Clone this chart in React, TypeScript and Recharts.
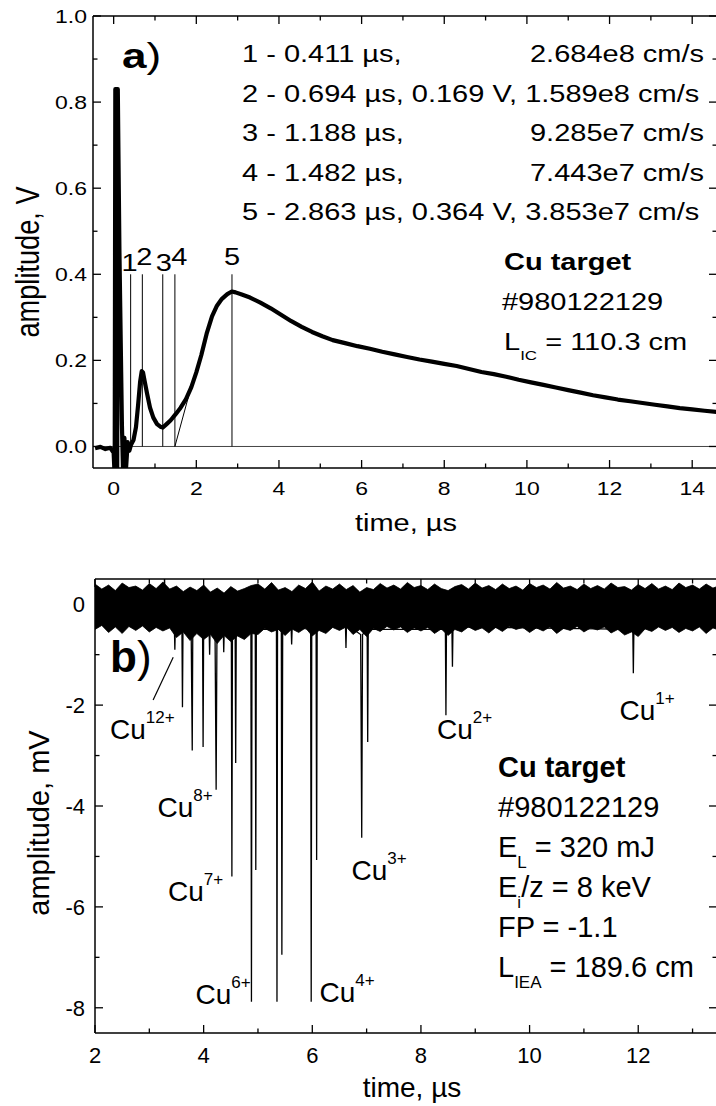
import React from "react";
import { ComposedChart, Line, Area, XAxis, YAxis, ReferenceLine } from "recharts";

const FONT = '"Liberation Sans", Arial, Helvetica, sans-serif';
const SQ = 0.8; // panel a) of the scan is squashed vertically

// ---- panel a): ion collector signal, time (µs) vs amplitude (V) ----
const icTime = [
  -0.45, -0.32, -0.2, -0.08, 0.0, 0.025, 0.04, 0.07, 0.085, 0.1, 0.14, 0.2, 0.23, 0.26,
  0.3, 0.34, 0.38, 0.42, 0.48, 0.54, 0.59, 0.64, 0.68, 0.71, 0.75, 0.81, 0.88, 0.96, 1.05,
  1.13, 1.19, 1.28, 1.38, 1.5, 1.62, 1.75, 1.88, 2.0, 2.12, 2.25, 2.38, 2.5, 2.62, 2.75, 2.86,
  2.95, 3.1, 3.3, 3.55, 3.8, 4.05, 4.3, 4.55, 4.8, 5.05, 5.3, 5.6, 5.9, 6.2, 6.5, 6.8, 7.1,
  7.4, 7.7, 8.0, 8.3, 8.6, 8.9, 9.2, 9.5, 9.8, 10.1, 10.4, 10.7, 11.0, 11.3, 11.6, 11.9, 12.2,
  12.5, 12.8, 13.1, 13.4, 13.7, 14.0, 14.3, 14.6,
];
const icAmp = [
  -0.004, -0.001, -0.006, -0.003, -0.015, -0.07, 0.83, 0.83, -0.07, 0.83, 0.45, 0.05, -0.07, 0.02,
  -0.05, 0.01, -0.01, 0.004, 0.015, 0.045, 0.095, 0.15, 0.175, 0.172, 0.152, 0.122, 0.09, 0.067, 0.052,
  0.046, 0.044, 0.052, 0.061, 0.075, 0.09, 0.11, 0.138, 0.172, 0.212, 0.262, 0.302, 0.327, 0.343, 0.354, 0.36,
  0.358, 0.353, 0.346, 0.334, 0.321, 0.306, 0.291, 0.278, 0.266, 0.256, 0.247, 0.24, 0.233, 0.227, 0.22, 0.214, 0.208,
  0.202, 0.197, 0.192, 0.187, 0.18, 0.173, 0.168, 0.162, 0.155, 0.149, 0.143, 0.137, 0.131, 0.125, 0.119, 0.114, 0.109,
  0.105, 0.101, 0.097, 0.093, 0.089, 0.086, 0.083, 0.08,
];
const markTime = [0.411, 0.694, 1.188, 1.482, 2.863];
const markName = ["1", "2", "3", "4", "5"];
const markTop = 0.4;
// label nudges in px (dx, dy from the top of each marker)
const markNudge = [[-1, -3], [2, -9], [1, -3], [4.5, -9], [0, -9]];
const tangentT = [1.482, 1.95];
const tangentV = [0, 0.165];

const aXTicks = [0, 1, 2, 3, 4, 5, 6, 7, 8, 9, 10, 11, 12, 13, 14];
const aXMajor = [0, 2, 4, 6, 8, 10, 12, 14];
const aYTicks = [0, 0.1, 0.2, 0.3, 0.4, 0.5, 0.6, 0.7, 0.8, 0.9, 1.0];
const aYMajor = [0, 0.2, 0.4, 0.6, 0.8, 1.0];

// ---- panel b): IEA spectrum, time (µs) vs amplitude (mV) ----
// noise band envelope (upper / lower edge)
const noiseTime = [
  2.0, 2.125, 2.25, 2.375, 2.5, 2.625, 2.75, 2.875, 3.0, 3.125, 3.25, 3.375, 3.5, 3.625, 3.75, 3.875,
  4.0, 4.125, 4.25, 4.375, 4.5, 4.625, 4.75, 4.875, 5.0, 5.125, 5.25, 5.375, 5.5, 5.625, 5.75, 5.875,
  6.0, 6.125, 6.25, 6.375, 6.5, 6.625, 6.75, 6.875, 7.0, 7.125, 7.25, 7.375, 7.5, 7.625, 7.75, 7.875,
  8.0, 8.125, 8.25, 8.375, 8.5, 8.625, 8.75, 8.875, 9.0, 9.125, 9.25, 9.375, 9.5, 9.625, 9.75, 9.875,
  10.0, 10.125, 10.25, 10.375, 10.5, 10.625, 10.75, 10.875, 11.0, 11.125, 11.25, 11.375, 11.5, 11.625, 11.75, 11.875,
  12.0, 12.125, 12.25, 12.375, 12.5, 12.625, 12.75, 12.875, 13.0, 13.125, 13.25, 13.375, 13.5,
];
const noiseHigh = [
  0.4, 0.3, 0.38, 0.27, 0.42, 0.33, 0.36, 0.28, 0.41, 0.31, 0.44, 0.3, 0.36, 0.25, 0.34, 0.27,
  0.38, 0.24, 0.32, 0.22, 0.35, 0.26, 0.31, 0.37, 0.4, 0.3, 0.43, 0.28, 0.33, 0.25, 0.38, 0.31,
  0.44, 0.26, 0.36, 0.3, 0.4, 0.29, 0.37, 0.24, 0.33, 0.29, 0.41, 0.32, 0.38, 0.3, 0.43, 0.33,
  0.37, 0.29, 0.4, 0.31, 0.27, 0.35, 0.39, 0.3, 0.42, 0.32, 0.37, 0.29, 0.4, 0.31, 0.36, 0.28,
  0.41, 0.33, 0.38, 0.3, 0.43, 0.32, 0.36, 0.29, 0.4, 0.31, 0.37, 0.3, 0.42, 0.33, 0.35, 0.28,
  0.39, 0.31, 0.41, 0.3, 0.36, 0.29, 0.42, 0.33, 0.38, 0.3, 0.4, 0.32, 0.37,
];
const noiseLow = [
  -0.5, -0.42, -0.56, -0.45, -0.58, -0.44, -0.52, -0.43, -0.55, -0.46, -0.53, -0.47, -0.66, -0.55, -0.72, -0.58,
  -0.7, -0.6, -0.78, -0.62, -0.74, -0.63, -0.7, -0.58, -0.6, -0.48, -0.55, -0.5, -0.62, -0.49, -0.56, -0.47,
  -0.63, -0.52, -0.58, -0.46, -0.52, -0.45, -0.6, -0.5, -0.64, -0.48, -0.54, -0.44, -0.51, -0.45, -0.56, -0.47,
  -0.53, -0.46, -0.58, -0.49, -0.62, -0.5, -0.55, -0.45, -0.52, -0.47, -0.57, -0.46, -0.54, -0.44, -0.5, -0.46,
  -0.56, -0.47, -0.53, -0.45, -0.58, -0.48, -0.52, -0.44, -0.55, -0.47, -0.51, -0.45, -0.57, -0.5, -0.61, -0.55,
  -0.64, -0.49, -0.54, -0.45, -0.52, -0.46, -0.56, -0.48, -0.53, -0.45, -0.58, -0.47, -0.52,
];
// spike trace (each peak with its shoulders in the noise band)
const traceTime = [
  2.0, 3.27, 3.28, 3.29, 3.46, 3.47, 3.48, 3.6, 3.61, 3.62, 3.77, 3.79, 3.8, 3.98, 3.99, 4.0,
  4.1, 4.11, 4.12, 4.21, 4.23, 4.245, 4.36, 4.37, 4.38, 4.51, 4.52, 4.53, 4.58, 4.59, 4.6,
  4.87, 4.88, 4.89, 4.95, 4.96, 4.97, 5.34, 5.35, 5.36, 5.43, 5.44, 5.455, 5.61, 5.62, 5.63,
  5.97, 5.98, 5.99, 6.07, 6.08, 6.09, 6.61, 6.62, 6.63, 6.89, 6.91, 6.925, 7.01, 7.02, 7.03,
  8.45, 8.46, 8.47, 8.57, 8.58, 8.59, 11.9, 11.91, 11.92, 13.45,
];
const traceAmp = [
  -0.1, -0.1, 0.6, -0.1, -0.4, -0.9, -0.4, -0.45, -2.04, -0.45, -0.5, -2.9, -0.5, -0.5, -2.83, -0.5,
  -0.45, -1.0, -0.45, -0.6, -3.68, -0.6, -0.45, -0.95, -0.45, -0.6, -5.4, -0.6, -0.6, -3.15, -0.6,
  -0.5, -7.88, -0.5, -0.5, -5.27, -0.5, -0.5, -7.88, -0.5, -0.5, -6.95, -0.5, -0.45, -0.8, -0.45,
  -0.5, -7.88, -0.5, -0.5, -5.07, -0.5, -0.4, -0.87, -0.4, -0.6, -4.63, -0.6, -0.5, -2.73, -0.5,
  -0.5, -2.2, -0.5, -0.45, -1.24, -0.45, -0.5, -1.37, -0.5, -0.1,
];
const leaderT = [3.07, 3.44];
const leaderV = [-1.9, -1.05];

const bXTicks = [2, 3, 4, 5, 6, 7, 8, 9, 10, 11, 12, 13];
const bXMajor = [2, 4, 6, 8, 10, 12];
const bYTicks = [-8, -7, -6, -5, -4, -3, -2, -1, 0];
const bYMajor = [-8, -6, -4, -2, 0];

const icData = icTime.map((t, i) => ({ t, v: icAmp[i] }));
const noiseData = noiseTime.map((t, i) => ({ t, band: [noiseLow[i], noiseHigh[i]] }));
const traceData = traceTime.map((t, i) => ({ t, v: traceAmp[i] }));

type TickOpts = {
  side: "bottom" | "top" | "left" | "right";
  majors: number[];
  fmt?: (v: number) => string;
  size?: number;
  sy?: number;
  gap?: number;
};

// inward ticks, long at labelled values, short in between
function tickRenderer(o: TickOpts) {
  return (props: any) => {
    const { x, y, payload } = props;
    const v = payload.value;
    const major = o.majors.some((m) => Math.abs(m - v) < 1e-6);
    const len = major ? 8 : 4.5;
    let x2 = x, y2 = y;
    if (o.side === "bottom") y2 = y - len;
    if (o.side === "top") y2 = y + len;
    if (o.side === "left") x2 = x + len;
    if (o.side === "right") x2 = x - len;
    const size = o.size ?? 20;
    const sy = o.sy ?? 1;
    const gap = o.gap ?? 8;
    let label = null;
    if (major && o.fmt) {
      const tf = o.side === "bottom"
        ? `translate(${x},${y + gap}) scale(1,${sy})`
        : `translate(${x - gap},${y + 0.36 * size * sy}) scale(1,${sy})`;
      label = (
        <text transform={tf} fontSize={size} fontFamily={FONT} fill="#000"
          textAnchor={o.side === "bottom" ? "middle" : "end"}>
          {o.fmt(v)}
        </text>
      );
    }
    return (
      <g>
        <line x1={x} y1={y} x2={x2} y2={y2} stroke="#000" strokeWidth={1.3} />
        {label}
      </g>
    );
  };
}

function Txt({ x, y, size = 29, sy = 1, bold = false, anchor = "start", rotate = 0, children }: any) {
  const tf = `translate(${x},${y}) scale(1,${sy})` + (rotate ? ` rotate(${rotate})` : "");
  return (
    <text transform={tf} fontSize={size} fontFamily={FONT} fontWeight={bold ? 700 : 400}
      textAnchor={anchor} fill="#000" style={{ whiteSpace: "pre" }}>
      {children}
    </text>
  );
}

function Ion({ x, y, charge }: { x: number; y: number; charge: string }) {
  return (
    <Txt x={x} y={y} size={28}>
      Cu<tspan fontSize={17} dy={-16}>{charge}</tspan>
    </Txt>
  );
}

const markLabel = (i: number) => (p: any) => {
  const vb = p.viewBox || {};
  const [dx, dy] = markNudge[i];
  return (
    <text transform={`translate(${vb.x + dx},${vb.y + dy}) scale(1,${SQ})`} fontSize={29}
      fontFamily={FONT} textAnchor="middle" fill="#000">
      {markName[i]}
    </text>
  );
};

const axisLine = { stroke: "#000", strokeWidth: 1.5 };

function PanelA() {
  return (
    <ComposedChart width={720} height={545} margin={{ top: 15, right: 2, bottom: 76, left: 92 }}>
      <XAxis type="number" dataKey="t" domain={[-0.5, 14.6]} allowDataOverflow ticks={aXTicks}
        interval={0} height={1} tickSize={0} tickMargin={0} tickLine={false} axisLine={axisLine}
        tick={tickRenderer({ side: "bottom", majors: aXMajor, fmt: (v) => String(v), size: 23, sy: SQ, gap: 27 })} />
      <XAxis xAxisId="top" orientation="top" type="number" dataKey="t" domain={[-0.5, 14.6]}
        allowDataOverflow ticks={aXTicks} interval={0} height={1} tickSize={0} tickMargin={0}
        tickLine={false} axisLine={axisLine} tick={tickRenderer({ side: "top", majors: aXMajor })} />
      <YAxis type="number" domain={[-0.05, 1.0]} allowDataOverflow ticks={aYTicks} interval={0}
        width={1} tickSize={0} tickMargin={0} tickLine={false} axisLine={axisLine}
        tick={tickRenderer({ side: "left", majors: aYMajor, fmt: (v) => v.toFixed(1), size: 23, sy: SQ, gap: 6 })} />
      <YAxis yAxisId="right" orientation="right" type="number" domain={[-0.05, 1.0]} allowDataOverflow
        ticks={aYTicks} interval={0} width={1} tickSize={0} tickMargin={0} tickLine={false}
        axisLine={axisLine} tick={tickRenderer({ side: "right", majors: aYMajor })} />
      <ReferenceLine y={0} stroke="#444" strokeWidth={1} />
      {markTime.map((t, i) => (
        <ReferenceLine key={t} segment={[{ x: t, y: 0 }, { x: t, y: markTop }]} stroke="#000"
          strokeWidth={1} label={markLabel(i)} />
      ))}
      <ReferenceLine segment={[{ x: tangentT[0], y: tangentV[0] }, { x: tangentT[1], y: tangentV[1] }]}
        stroke="#000" strokeWidth={1} />
      <Line data={icData} dataKey="v" type="linear" stroke="#000" strokeWidth={4.2} dot={false}
        isAnimationActive={false} strokeLinejoin="round" />
      <Line data={icData} dataKey="v" xAxisId="top" yAxisId="right" stroke="none" dot={false}
        isAnimationActive={false} />
    </ComposedChart>
  );
}

function PanelB() {
  return (
    <ComposedChart width={720} height={561} margin={{ top: 33, right: 2, bottom: 72, left: 94 }}>
      <XAxis type="number" dataKey="t" domain={[2, 13.45]} allowDataOverflow ticks={bXTicks}
        interval={0} height={1} tickSize={0} tickMargin={0} tickLine={false} axisLine={axisLine}
        tick={tickRenderer({ side: "bottom", majors: bXMajor, fmt: (v) => String(v), size: 22, gap: 30 })} />
      <XAxis xAxisId="top" orientation="top" type="number" dataKey="t" domain={[2, 13.45]}
        allowDataOverflow ticks={bXTicks} interval={0} height={1} tickSize={0} tickMargin={0}
        tickLine={false} axisLine={axisLine} tick={tickRenderer({ side: "top", majors: bXMajor })} />
      <YAxis type="number" domain={[-8.5, 0.5]} allowDataOverflow ticks={bYTicks} interval={0}
        width={1} tickSize={0} tickMargin={0} tickLine={false} axisLine={axisLine}
        tick={tickRenderer({ side: "left", majors: bYMajor, fmt: (v) => String(v), size: 22, gap: 10 })} />
      <YAxis yAxisId="right" orientation="right" type="number" domain={[-8.5, 0.5]} allowDataOverflow
        ticks={bYTicks} interval={0} width={1} tickSize={0} tickMargin={0} tickLine={false}
        axisLine={axisLine} tick={tickRenderer({ side: "right", majors: bYMajor })} />
      <Area data={noiseData} dataKey="band" type="linear" stroke="#000" strokeWidth={0.8} fill="#000"
        fillOpacity={1} isAnimationActive={false} dot={false} activeDot={false} />
      <Line data={traceData} dataKey="v" type="linear" stroke="#000" strokeWidth={1.3} dot={false}
        isAnimationActive={false} />
      <Line data={traceData} dataKey="v" xAxisId="top" yAxisId="right" stroke="none" dot={false}
        isAnimationActive={false} />
      <ReferenceLine segment={[{ x: leaderT[0], y: leaderV[0] }, { x: leaderT[1], y: leaderV[1] }]}
        stroke="#000" strokeWidth={1.2} />
    </ComposedChart>
  );
}

export default function App() {
  return (
    <div style={{ position: "absolute", left: 0, top: 0, width: 716, height: 1106, overflow: "hidden", background: "#fff" }}>
      <div style={{ position: "absolute", left: 0, top: 0 }}>
        <PanelA />
      </div>
      <div style={{ position: "absolute", left: 0, top: 545 }}>
        <PanelB />
      </div>
      <svg width={716} height={1106} style={{ position: "absolute", left: 0, top: 0, pointerEvents: "none" }}>
        {/* panel a) annotations */}
        <Txt x={122} y={68} size={44} sy={SQ}>
          <tspan fontWeight={700}>a</tspan>)
        </Txt>
        <Txt x={242} y={62} sy={SQ}>1 - 0.411 µs,</Txt>
        <Txt x={704} y={62} sy={SQ} anchor="end">2.684e8 cm/s</Txt>
        <Txt x={242} y={101.5} sy={SQ}>2 - 0.694 µs, 0.169 V, 1.589e8 cm/s</Txt>
        <Txt x={242} y={141} sy={SQ}>3 - 1.188 µs,</Txt>
        <Txt x={704} y={141} sy={SQ} anchor="end">9.285e7 cm/s</Txt>
        <Txt x={242} y={180.5} sy={SQ}>4 - 1.482 µs,</Txt>
        <Txt x={704} y={180.5} sy={SQ} anchor="end">7.443e7 cm/s</Txt>
        <Txt x={242} y={220} sy={SQ}>5 - 2.863 µs, 0.364 V, 3.853e7 cm/s</Txt>
        <Txt x={504} y={270} sy={SQ} bold>Cu target</Txt>
        <Txt x={502} y={310} sy={SQ}>#980122129</Txt>
        <Txt x={504} y={350} sy={SQ}>
          L<tspan fontSize={17} dy={12}>IC</tspan><tspan dy={-12}> = 110.3 cm</tspan>
        </Txt>
        <Txt x={406} y={531} sy={SQ} anchor="middle">time, µs</Txt>
        <Txt x={39} y={262} size={34} sy={SQ} anchor="middle" rotate={-90}>amplitude, V</Txt>

        {/* panel b) annotations */}
        <Txt x={110} y={672} size={44}>
          <tspan fontWeight={700}>b</tspan>)
        </Txt>
        <Ion x={110} y={739} charge="12+" />
        <Ion x={157.5} y={817} charge="8+" />
        <Ion x={168} y={901} charge="7+" />
        <Ion x={195.5} y={1004} charge="6+" />
        <Ion x={319.5} y={1002} charge="4+" />
        <Ion x={351.5} y={880} charge="3+" />
        <Ion x={437} y={739} charge="2+" />
        <Ion x={619.5} y={720} charge="1+" />
        <Txt x={498} y={777} bold>Cu target</Txt>
        <Txt x={498} y={817}>#980122129</Txt>
        <Txt x={498} y={857}>
          E<tspan fontSize={17} dy={11}>L</tspan><tspan dy={-11}> = 320 mJ</tspan>
        </Txt>
        <Txt x={498} y={897}>
          E<tspan fontSize={17} dy={11}>i</tspan><tspan dy={-11}>/z = 8 keV</tspan>
        </Txt>
        <Txt x={498} y={937}>FP = -1.1</Txt>
        <Txt x={498} y={977}>
          L<tspan fontSize={17} dy={11}>IEA</tspan><tspan dy={-11}> = 189.6 cm</tspan>
        </Txt>
        <Txt x={412} y={1097} size={28} anchor="middle">time, µs</Txt>
        <Txt x={49} y={823} size={29} anchor="middle" rotate={-90}>amplitude, mV</Txt>
      </svg>
    </div>
  );
}
